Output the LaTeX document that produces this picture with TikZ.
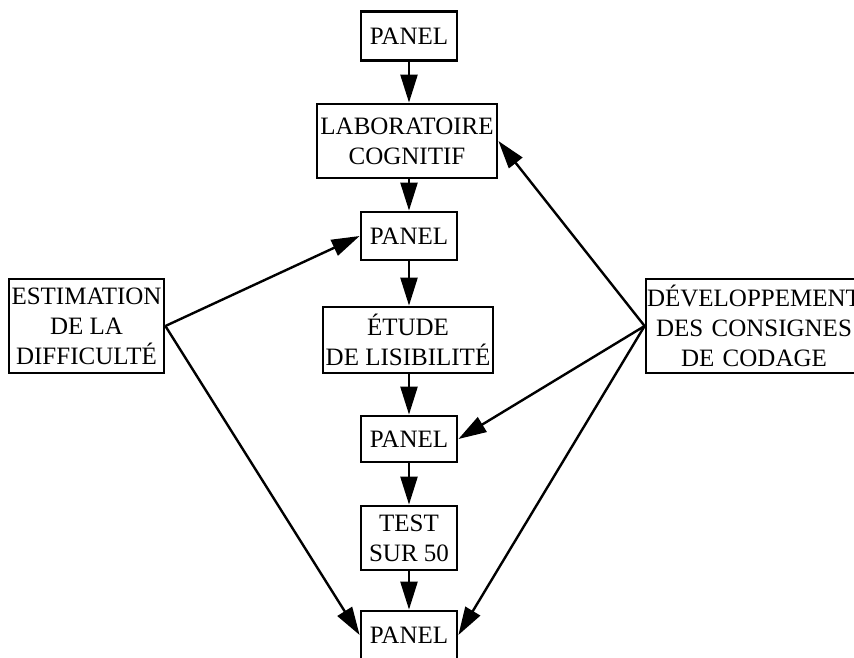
\documentclass[tikz,border=0pt]{standalone}
\usepackage{fontspec}
\setmainfont{Liberation Serif}
\usetikzlibrary{arrows.meta}
\begin{document}
\begin{tikzpicture}[x=1pt,y=-1pt,
  box/.style={draw, line width=2.8pt, inner sep=0pt, align=center,
    font=\fontsize{25}{30}\selectfont},
  arr/.style={line width=2.4pt, -{Triangle[length=28pt,width=17pt]}}]
\useasboundingbox (0,0) rectangle (854,657);
\clip (0,0) rectangle (854,657);
\node[box, minimum width=96pt, minimum height=49pt] (p1) at (409,36) {PANEL};
\node[box, minimum width=180pt, minimum height=74pt] (lab) at (407,141) {LABORATOIRE\\COGNITIF};
\node[box, minimum width=96pt, minimum height=48pt] (p2) at (409,236) {PANEL};
\node[box, minimum width=170pt, minimum height=66pt] (etu) at (408,340) {ÉTUDE\\DE LISIBILITÉ};
\node[box, minimum width=96pt, minimum height=46pt] (p3) at (409,439) {PANEL};
\node[box, minimum width=96pt, minimum height=64pt] (test) at (409,538) {TEST\\SUR 50};
\node[box, minimum width=96pt, minimum height=48pt] (p4) at (409,635) {PANEL};
\node[box, minimum width=155pt, minimum height=94pt] (est) at (86.5,326) {ESTIMATION\\DE LA\\DIFFICULTÉ};
\node[box, minimum width=216pt, minimum height=94pt, text width=216pt] (dev) at (754,326) {DÉVELOPPEMENT\\DES CONSIGNES\\DE CODAGE};
\draw[arr] (p1.south) -- (p1.south |- lab.north);
\draw[arr] (lab.south -| p2.north) -- (p2.north);
\draw[arr] (p2.south) -- (p2.south |- etu.north);
\draw[arr] (etu.south -| p3.north) -- (p3.north);
\draw[arr] (p3.south) -- (test.north);
\draw[arr] (test.south) -- (p4.north);
\draw[arr] (est.east) -- (p2.west);
\draw[arr] (est.east) -- (p4.west);
\draw[arr] (dev.west) -- (lab.east);
\draw[arr] (dev.west) -- (p3.east);
\draw[arr] (dev.west) -- (p4.east);
\end{tikzpicture}
\end{document}
